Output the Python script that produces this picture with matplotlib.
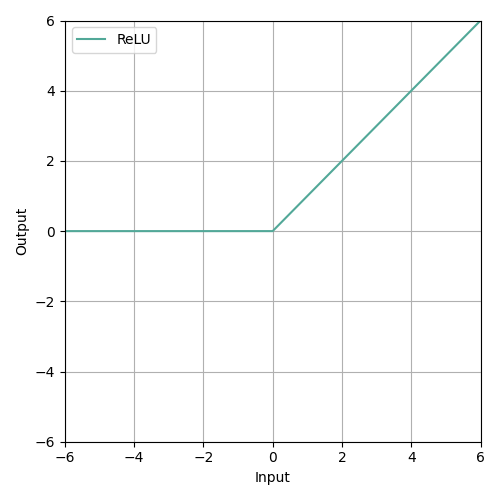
import numpy as np
import matplotlib
matplotlib.use("Agg")
from matplotlib import pyplot as plt

# input samples and the ReLU output
x = [-6, -4, -2, 0, 2, 4, 6]
y = [0, 0, 0, 0, 2, 4, 6]

fig, ax = plt.subplots(figsize=(5, 5), dpi=100)
ax.plot(x, y, color='#52a898', label='ReLU')
ax.set_xlim(-6, 6)
ax.set_ylim(-6, 6)
ax.set_xlabel('Input')
ax.set_ylabel('Output')
ax.grid(True)
ax.legend(loc='upper left')
fig.tight_layout()
fig.savefig('out.png')
